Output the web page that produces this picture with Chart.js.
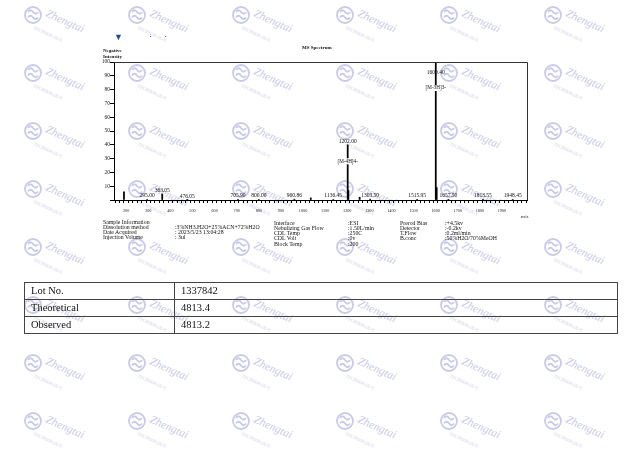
<!DOCTYPE html>
<html>
<head>
<meta charset="utf-8">
<script src="https://cdn.jsdelivr.net/npm/chart.js@4.4.0/dist/chart.umd.min.js"></script>
<style>
  body { margin: 0; background: #fff; }
  #page { position: relative; width: 640px; height: 473px; overflow: hidden;
          font-family: "Liberation Serif", "Times New Roman", serif; color: #111; }
  #wm { position: absolute; left: 0; top: 0; width: 640px; height: 473px; z-index: 0; }
  #ms { position: absolute; left: 0; top: 0; z-index: 1; }
  .t { position: absolute; white-space: nowrap; line-height: 1; z-index: 2; }
  table { position: absolute; left: 24px; top: 282px; width: 594px; border-collapse: collapse;
          font-size: 10.5px; z-index: 2; }
  td { border: 1px solid #444; height: 16px; padding: 0 0 0 6px; line-height: 16px; }
</style>
</head>
<body>
<div id="page">
  <div id="wm"></div>
  <canvas id="ms" width="640" height="473"></canvas>

  <!-- header bits above the spectrum -->
  <div class="t" style="left:114px;top:33px;font-size:9px;color:#1f4f8f;">&#9660;</div>
  <div class="t" style="left:150px;top:35px;font-size:4px;">&#8226;</div>
  <div class="t" style="left:165px;top:35px;font-size:4px;">&#8226;</div>
  <div class="t" style="left:103px;top:47.5px;font-size:5px;font-weight:bold;">Negative</div>
  <div class="t" style="left:103px;top:53.5px;font-size:5px;font-weight:bold;">Intensity</div>
  <div class="t" style="left:302px;top:44.5px;font-size:5px;font-weight:bold;">MS Spectrum</div>
  <div class="t" style="left:521px;top:214px;font-size:5px;">m/z</div>

  <div id="info"></div>

  <table>
    <tr><td style="width:143px">Lot No.</td><td>1337842</td></tr>
    <tr><td>Theoretical</td><td>4813.4</td></tr>
    <tr><td>Observed</td><td>4813.2</td></tr>
  </table>
</div>

<script>
// peaks (m/z, relative intensity %)
const peakMz        = [190, 295.00, 363.05, 476.05, 705.90, 800.00, 960.86, 1035, 1136.45, 1202.00, 1205, 1256, 1303.50, 1515.95, 1600.40, 1604.5, 1657.50, 1813.55, 1948.45];
const peakIntensity = [6,   0.4,    4.3,    0.3,    0.4,    0.4,    0.6,    1.5,  0.4,     40,      7,    2,    0.6,     0.4,     100,     9,      0.5,     0.4,     0.4];
const peakLabel     = ['', '295.00', '363.05', '476.05', '705.90', '800.00', '960.86', '', '1136.45', '1202.00', '', '', '1303.50', '1515.95', '1600.40', '', '1657.50', '1813.55', '1948.45'];
const ionLabel      = ['', '', '', '', '', '', '', '', '', '[M-4H]4-', '', '', '', '', '[M-3H]3-', '', '', '', ''];

const xMajorTicks = [200, 300, 400, 500, 600, 700, 800, 900, 1000, 1100, 1200, 1300, 1400, 1500, 1600, 1700, 1800, 1900];
const yTickLabels = [10, 20, 30, 40, 50, 60, 70, 80, 90, 100];

// acquisition parameters under the plot
const infoNames1  = ["Sample Information", "Dissolution method", "Date Acquired", "Injection Volume"];
const infoValues1 = ["", ":3%NH3.H2O+25%ACN+72%H2O", ": 2023/5/23 13:04:28", ": 3ul"];
const infoNames2  = ["Interface", "Nebulizing Gas Flow", "CDL Temp", "CDL Volt", "Block Temp"];
const infoValues2 = [":ESI", ":1.50L/min", ":250C", ":0v", ":200"];
const infoNames3  = ["Prerod Bias", "Detector", "T.Flow", "B.conc"];
const infoValues3 = [":+4.5kv", ":-0.2kv", ":0.2ml/min", ":50%H2O/70%MeOH"];

function addColumn(list, x, y0) {
  const box = document.getElementById("info");
  list.forEach((txt, i) => {
    const d = document.createElement("div");
    d.className = "t";
    d.style.left = x + "px";
    d.style.top = (y0 + i * 5.1 - 2.9) + "px";
    d.style.fontSize = "5.8px";
    d.textContent = txt;
    box.appendChild(d);
  });
}
addColumn(infoNames1, 103, 222.5);
addColumn(infoValues1, 175, 222.5);
addColumn(infoNames2, 274, 224);
addColumn(infoValues2, 348, 224);
addColumn(infoNames3, 400, 224);
addColumn(infoValues3, 445, 224);

// watermark tiles
function drawWatermark() {
  const wm = document.getElementById("wm");
  const cols = [33, 137, 241, 345, 449, 553];
  const rows = [15, 73, 131, 189, 247, 305, 363, 421];
  let html = "";
  rows.forEach((cy) => {
    cols.forEach((cx) => {
      html += `<svg style="position:absolute;left:${cx - 10}px;top:${cy - 10}px" width="85" height="50">
        <g fill="none" stroke="#c9cae6" stroke-width="1.8">
          <circle cx="10" cy="10" r="8"/>
          <path d="M5,7 q2.5,-3.5 5,0 t5,0"/>
          <path d="M5,12.5 q2.5,-3.5 5,0 t5,0"/>
        </g>
        <text x="22" y="11" transform="rotate(24 22 11)" font-family="Liberation Serif" font-style="italic"
              font-size="11.5" fill="#c9cae6">Zhengtai</text>
        <text x="10" y="24" transform="rotate(24 10 24)" font-family="Liberation Serif"
              font-size="4.6" fill="#c9cae6">TECHNOLOGY</text>
      </svg>`;
    });
  });
  wm.innerHTML = html;
}
drawWatermark();

// frame on top and right of plot area
const framePlugin = {
  id: "frame",
  afterDraw(chart) {
    const a = chart.chartArea;
    const ctx = chart.ctx;
    ctx.save();
    ctx.strokeStyle = "#333";
    ctx.lineWidth = 1;
    ctx.beginPath();
    ctx.moveTo(a.left, a.top + 0.5);
    ctx.lineTo(a.right + 0.5, a.top + 0.5);
    ctx.lineTo(a.right + 0.5, a.bottom);
    ctx.stroke();
    ctx.restore();
  },
};

// m/z labels above peaks plus ion labels
const labelPlugin = {
  id: "peakLabels",
  afterDatasetsDraw(chart) {
    const ctx = chart.ctx;
    const xs = chart.scales.x;
    const ys = chart.scales.y;
    const a = chart.chartArea;
    ctx.save();
    ctx.textAlign = "center";
    ctx.textBaseline = "middle";
    ctx.fillStyle = "#111";
    peakLabel.forEach((lab, i) => {
      if (!lab) return;
      const x = xs.getPixelForValue(peakMz[i]);
      const top = ys.getPixelForValue(peakIntensity[i]);
      let ly = top - 3.5;
      let clamped = false;
      if (ly < a.top + 10) { ly = a.top + 11; clamped = true; }
      if (ly > a.bottom - 2.5) ly = a.bottom - 2.5;
      ctx.font = "5.5px 'Liberation Serif'";
      ctx.fillText(lab, x, ly);
      if (ionLabel[i]) {
        const iy = ly + (clamped ? 15 : 20);
        ctx.font = "5.2px 'Liberation Serif'";
        const w = ctx.measureText(ionLabel[i]).width;
        ctx.fillStyle = "#fff";
        ctx.fillRect(x - w / 2 - 1, iy - 3, w + 2, 6);
        ctx.fillStyle = "#111";
        ctx.fillText(ionLabel[i], x, iy);
      }
    });
    ctx.restore();
  },
};

new Chart(document.getElementById("ms"), {
  type: "bar",
  data: {
    datasets: [
      {
        data: peakMz.map((m, i) => ({ x: m, y: peakIntensity[i] })),
        backgroundColor: "#000",
        borderWidth: 0,
        barThickness: 1.1,
        grouped: false,
      },
    ],
  },
  options: {
    responsive: false,
    animation: false,
    layout: { padding: { left: 94, right: 113, top: 62, bottom: 259 } },
    plugins: { legend: { display: false }, tooltip: { enabled: false } },
    scales: {
      x: {
        type: "linear",
        min: 155,
        max: 2003,
        afterFit: (scale) => { scale.height = 14; },
        border: { display: true, color: "#000", width: 1 },
        grid: { drawOnChartArea: false, tickLength: 3, color: "#000" },
        ticks: {
          stepSize: 20,
          includeBounds: false,
          autoSkip: false,
          maxRotation: 0,
          padding: 5,
          color: "#222",
          font: { family: "Liberation Serif", size: 4.2 },
          callback: (v) => (xMajorTicks.includes(v) ? String(v) : ""),
        },
      },
      y: {
        min: 0,
        max: 100,
        afterFit: (scale) => { scale.width = 20; },
        border: { display: true, color: "#000", width: 1 },
        grid: { drawOnChartArea: false, tickLength: 4, color: "#000" },
        ticks: {
          stepSize: 10,
          padding: 0,
          color: "#222",
          font: { family: "Liberation Serif", size: 5.5 },
          callback: (v) => (yTickLabels.includes(v) ? String(v) : ""),
        },
      },
    },
  },
  plugins: [framePlugin, labelPlugin],
});
</script>
</body>
</html>
